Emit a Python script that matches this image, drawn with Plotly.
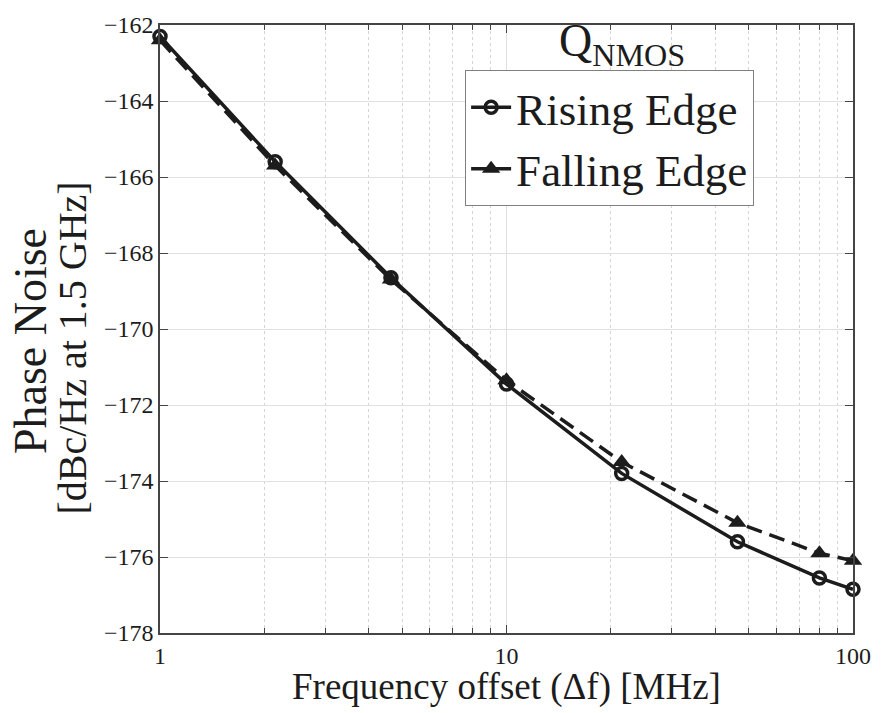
import plotly.graph_objects as go

# Offset frequencies (MHz) and measured phase noise (dBc/Hz at 1.5 GHz)
offset_mhz = [1, 2.15, 4.64, 10, 21.5, 46.4, 80, 100]
rising_edge = [-162.3, -165.6, -168.65, -171.45, -173.8, -175.6, -176.55, -176.85]
falling_edge = [-162.4, -165.7, -168.7, -171.35, -173.5, -175.1, -175.9, -176.1]

x_major = [1, 10, 100]
x_minor = [2, 3, 4, 5, 6, 7, 8, 9, 20, 30, 40, 50, 60, 70, 80, 90]
y_ticks = [-178, -176, -174, -172, -170, -168, -166, -164, -162]

FONT = "Liberation Serif, Times New Roman, serif"
INK = "#1c1c1c"

fig = go.Figure()
fig.add_trace(go.Scatter(
    x=offset_mhz, y=rising_edge, name="Rising Edge", mode="lines+markers",
    line=dict(color=INK, width=3.5),
    marker=dict(symbol="circle-open", size=12, color=INK, line=dict(width=3.5)),
    cliponaxis=False,
))
fig.add_trace(go.Scatter(
    x=offset_mhz, y=falling_edge, name="Falling Edge", mode="lines+markers",
    line=dict(color=INK, width=3.5, dash="16px,8px"),
    marker=dict(symbol="triangle-up", size=16, color=INK),
    cliponaxis=False,
))

fig.update_layout(
    width=883, height=713,
    margin=dict(l=160, r=23, t=15, b=80),
    paper_bgcolor="white", plot_bgcolor="white",
    font=dict(family=FONT, color=INK, size=24),
    showlegend=True,
    legend=dict(
        x=(468 - 160) / 700, y=(633 - 61) / 618, xanchor="left", yanchor="top",
        bgcolor="white", bordercolor="#808080", borderwidth=1.2,
        font=dict(family=FONT, size=45, color=INK),
        tracegroupgap=0, itemwidth=40,
    ),
    annotations=[
        dict(text="Q<sub>NMOS</sub>", xref="paper", yref="paper",
             x=(627 - 160) / 700, y=(633 - 34) / 618, xanchor="center", yanchor="middle",
             showarrow=False, font=dict(family=FONT, size=46, color=INK)),
        dict(text="Phase Noise", xref="paper", yref="paper", textangle=-90,
             x=-(160 - 29) / 700, y=(633 - 336) / 618, xanchor="center", yanchor="middle",
             showarrow=False, font=dict(family=FONT, size=46, color=INK)),
        dict(text="[dBc/Hz at 1.5 GHz]", xref="paper", yref="paper", textangle=-90,
             x=-(160 - 72) / 700, y=(633 - 343) / 618, xanchor="center", yanchor="middle",
             showarrow=False, font=dict(family=FONT, size=40, color=INK)),
        dict(text="Frequency offset (\u0394f) [MHz]", xref="paper", yref="paper",
             x=(510 - 160) / 700, y=-(688 - 633) / 618, xanchor="center", yanchor="middle",
             showarrow=False, font=dict(family=FONT, size=37, color=INK)),
    ],
)

fig.update_xaxes(
    type="log", range=[0, 2],
    tickmode="array", tickvals=x_major, ticktext=[str(v) for v in x_major],
    ticks="inside", ticklen=8, tickwidth=1.2, tickcolor="#444",
    showline=True, linecolor="#444", linewidth=1.5, mirror="ticks",
    showgrid=True, gridcolor="#e0e0e0", gridwidth=1,
    zeroline=False,
    tickfont=dict(family=FONT, size=24, color=INK),
    minor=dict(tickmode="array", tickvals=x_minor, ticks="inside", ticklen=5,
               tickcolor="#444", tickwidth=1, showgrid=True,
               gridcolor="#d4d4d4", griddash="dot", gridwidth=1),
)
fig.update_yaxes(
    range=[-178, -162], tickmode="array", tickvals=y_ticks,
    ticks="inside", ticklen=8, tickwidth=1.2, tickcolor="#444",
    showline=True, linecolor="#444", linewidth=1.5, mirror="ticks",
    showgrid=True, gridcolor="#e0e0e0", gridwidth=1,
    zeroline=False,
    tickfont=dict(family=FONT, size=24, color=INK),
)

fig.write_html("out.html")
